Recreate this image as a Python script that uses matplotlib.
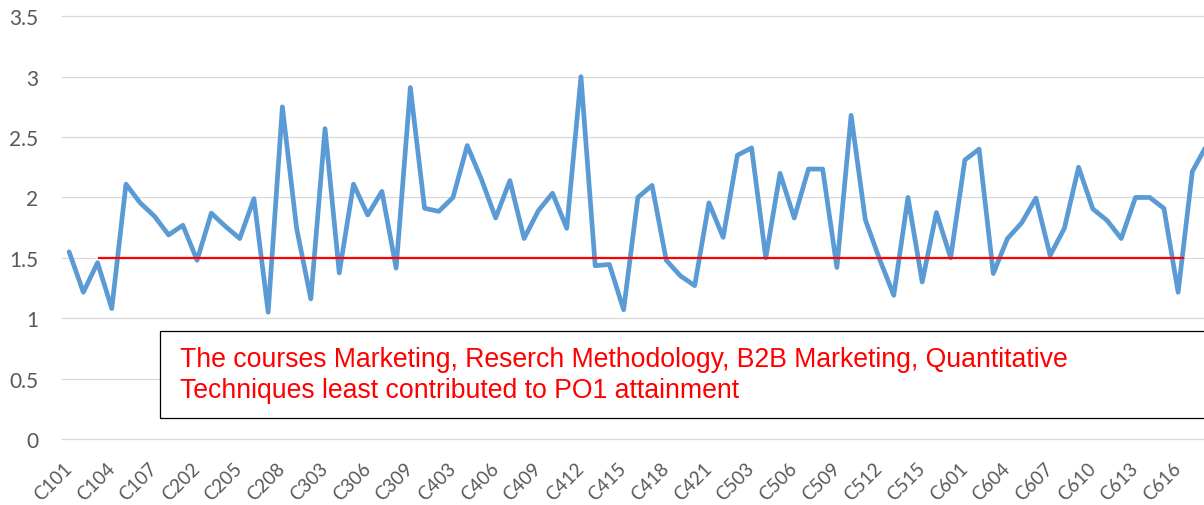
import matplotlib
matplotlib.use("Agg")
import matplotlib.pyplot as plt
from matplotlib.patches import Rectangle

# course codes, semester by semester
courses = [
    "C101", "C102", "C103", "C104", "C105", "C106", "C107", "C108",
    "C201", "C202", "C203", "C204", "C205", "C206", "C207", "C208",
    "C301", "C302", "C303", "C304", "C305", "C306", "C307", "C308", "C309",
    "C401", "C402", "C403", "C404", "C405", "C406", "C407", "C408", "C409", "C410",
    "C411", "C412", "C413", "C414", "C415", "C416", "C417", "C418", "C419", "C420", "C421",
    "C501", "C502", "C503", "C504", "C505", "C506", "C507", "C508", "C509", "C510",
    "C511", "C512", "C513", "C514", "C515", "C516", "C517",
    "C601", "C602", "C603", "C604", "C605", "C606", "C607", "C608", "C609", "C610",
    "C611", "C612", "C613", "C614", "C615", "C616", "C617", "C618",
]

# PO1 attainment per course
attainment = [
    1.55, 1.215, 1.46, 1.08, 2.11, 1.955, 1.845, 1.69,
    1.77, 1.48, 1.87, 1.76, 1.66, 1.99, 1.05, 2.75,
    1.745, 1.16, 2.57, 1.375, 2.11, 1.855, 2.05, 1.415, 2.91,
    1.91, 1.885, 2.00, 2.43, 2.15, 1.83, 2.14, 1.66, 1.89, 2.035,
    1.745, 3.00, 1.435, 1.445, 1.07, 2.00, 2.10, 1.48, 1.35, 1.27, 1.955,
    1.67, 2.35, 2.41, 1.50, 2.20, 1.83, 2.235, 2.235, 1.42, 2.68,
    1.815, 1.49, 1.19, 2.00, 1.30, 1.875, 1.50,
    2.31, 2.40, 1.37, 1.66, 1.79, 1.995, 1.52, 1.745, 2.25, 1.905,
    1.81, 1.66, 2.00, 2.00, 1.91, 1.215, 2.215, 2.43,
]

threshold = 1.5
threshold_span = (2, 78.4)
yticks = [0, 0.5, 1, 1.5, 2, 2.5, 3, 3.5]
note_lines = [
    "The courses Marketing, Reserch Methodology, B2B Marketing, Quantitative",
    "Techniques least contributed to PO1 attainment",
]

W, H = 1204, 506
fig = plt.figure(figsize=(W / 100, H / 100), dpi=100)
ax = fig.add_axes([62 / W, 1 - 440 / H, 1 - 62 / W, (440 - 17.3) / H])

x = list(range(len(courses)))
ax.plot(x, attainment, color="#5B9BD5", lw=3.4, solid_joinstyle="round",
        solid_capstyle="round", zorder=3)
ax.hlines(threshold, *threshold_span, color="#FF0000", lw=1.6, zorder=4)

ax.set_xlim(-0.5, 79.82)
ax.set_ylim(0, 3.5)
ax.set_yticks(yticks)
ax.set_yticklabels(["0", "0.5", "1", "1.5", "2", "2.5", "3", "3.5"])
ax.set_xticks(x[::3])
ax.set_xticklabels(courses[::3], rotation=45, ha="right", va="center",
                   rotation_mode="anchor")

ax.grid(axis="y", color="#D9D9D9", lw=0.9)
ax.set_axisbelow(True)
for gl in ax.get_ygridlines():
    gl.set_clip_on(False)
for s in ax.spines.values():
    s.set_visible(False)
ax.tick_params(axis="both", length=0, colors="#595959")
ax.tick_params(axis="y", labelsize=15, pad=17)
ax.tick_params(axis="x", labelsize=13.5, pad=19)
for lab in ax.get_xticklabels() + ax.get_yticklabels():
    lab.set_family("Lato")

# text box with the note
fig.add_artist(Rectangle((160 / W, 1 - 419.3 / H), (1220 - 160) / W, 87 / H,
                         transform=fig.transFigure, facecolor="white",
                         edgecolor="black", lw=0.9, zorder=10))
fig.text(180 / W, 1 - 366.7 / H, note_lines[0], color="#FF0000", fontsize=19.2,
         family="Liberation Sans", va="baseline", zorder=11)
fig.text(180 / W, 1 - 398.4 / H, note_lines[1], color="#FF0000", fontsize=19.2,
         family="Liberation Sans", va="baseline", zorder=11)

fig.savefig("out.png", dpi=100)
